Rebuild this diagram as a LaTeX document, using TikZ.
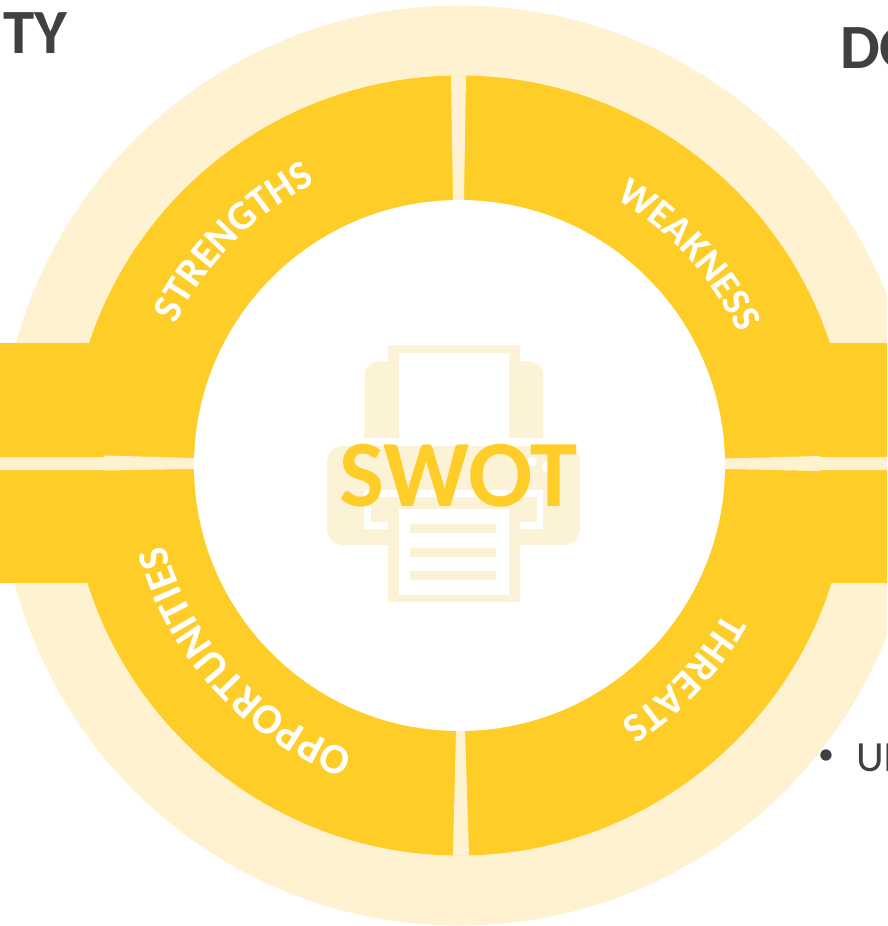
\documentclass[tikz,border=0pt]{standalone}
\usepackage{fontspec}
\setmainfont{Carlito}
\usetikzlibrary{decorations.text}
\definecolor{gold}{HTML}{FFCD28}
\definecolor{pale}{HTML}{FFF2D0}
\definecolor{iconpale}{HTML}{FCF2D5}
\definecolor{ink}{HTML}{404040}
\tikzset{
  x=1pt,y=1pt,
  ringtext/.style 2 args={decorate,decoration={text along path,text align=center,
    text={|\fontsize{#1}{#1}\selectfont\bfseries\color{white}|#2}}},
  icon/.style={fill=iconpale,draw=none},
  hole/.style={fill=white,draw=none},
  label/.style={text=ink,font=\bfseries\fontsize{63}{63}\selectfont,anchor=base west,inner sep=0pt},
  body/.style={text=ink,anchor=base west,inner sep=0pt},
}
\begin{document}
\begin{tikzpicture}
\useasboundingbox (-459.5,-460.5) rectangle (427.5,465.5);
\clip (-459.5,-460.5) rectangle (427.5,465.5);
\fill[white] (-459.5,-460.5) rectangle (427.5,465.5);
% pale disc, gold ring, side bars
\fill[pale] (0,0) circle (460);
\fill[gold] (0,0) circle (390);
\fill[gold] (-460,122.5) rectangle (-360,8.5);
\fill[gold] (-460,-4.5) rectangle (-360,-117.5);
\fill[gold] (360,122.5) rectangle (428,8.5);
\fill[gold] (360,-4.5) rectangle (428,-117.5);
% gaps between the four segments
\fill[pale] (-8.5,390) -- (6.5,390) -- (4.5,265) -- (-6.5,265) -- cycle;
\fill[pale] (-6.5,-390) -- (9.5,-390) -- (5.5,-265) -- (-3.5,-265) -- cycle;
\fill[pale] (-460,8.5) -- (-355.5,8.5) -- (-355.5,10) -- (-265,7.5) -- (-265,-3.5) -- (-355.5,-5) -- (-355.5,-4.5) -- (-460,-4.5) -- cycle;
\fill[pale] (428,8.5) -- (360.5,8.5) -- (360.5,9.5) -- (265,7) -- (265,-3.5) -- (360.5,-5.5) -- (360.5,-4.5) -- (428,-4.5) -- cycle;
% centre
\fill[white] (0,0) circle (265.5);
% printer icon
\begin{scope}[shift={(-459.5,465.5)},y=-1pt]
\fill[icon,rounded corners=14] (364.5,361.5) rectangle (543,480);
\fill[icon] (388,345.5) rectangle (519.5,480);
\fill[hole] (399,353.5) rectangle (508.5,438);
\fill[hole] (364,438) rectangle (543.5,446);
\fill[icon,rounded corners=16] (327,446) rectangle (580,545);
\fill[hole] (364.5,490) rectangle (543,529);
\fill[icon] (371,497) rectangle (537,522);
\fill[icon] (388,509) rectangle (519.5,602);
\fill[hole] (399,509) rectangle (508.5,595);
\fill[icon] (410,523.5) rectangle (496,532.5);
\fill[icon] (410,547.5) rectangle (496,556.5);
\fill[icon] (410,571) rectangle (496,580);
\fill[hole] (532,462) circle (5);
\fill[hole] (547,467) circle (5);
\end{scope}
\node[text=gold,font=\bfseries\fontsize{95}{95}\selectfont,inner sep=0pt,anchor=base] (swot) at (-1,-41) {SWOT};
% curved labels
\path[ringtext={41}{STRENGTHS}] (195.3:317) arc[start angle=195.3,end angle=75.3,radius=317];
\path[ringtext={40}{WEAKNESS}] (102.5:309) arc[start angle=102.5,end angle=-17.5,radius=309];
\path[ringtext={41}{THREATS}] (16.5:303) arc[start angle=16.5,end angle=-103.5,radius=303];
\path[ringtext={43}{OPPORTUNITIES}] (282.4:305) arc[start angle=282.4,end angle=162.4,radius=305];
% cut-off texts
\node[label] (ty) at (-456.5,412) {TY};
\node[label] (dox) at (380.5,397) {DO};
\node[body,font=\fontsize{32}{32}\selectfont] (bul) at (358.5,-298.5) {•};
\node[body,font=\fontsize{43}{43}\selectfont] (ui) at (396.5,-305.5) {UI};
\end{tikzpicture}
\end{document}
